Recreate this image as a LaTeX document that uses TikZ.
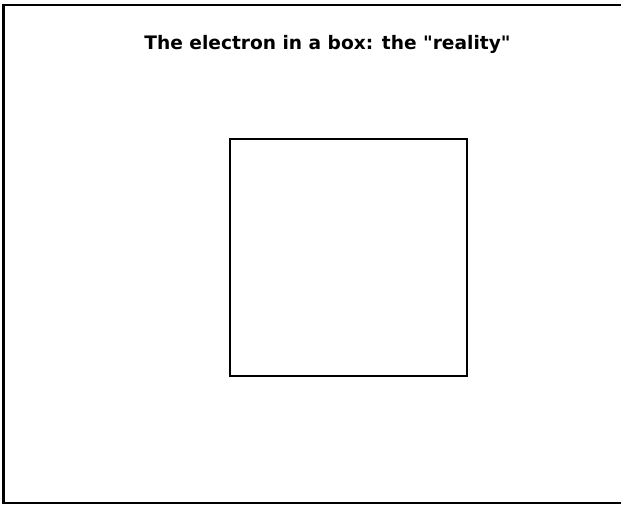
\documentclass[tikz,border=0pt]{standalone}
\usepackage{fontspec}
\newfontfamily\titlefont{DejaVu Sans}
\begin{document}
\begin{tikzpicture}[x=1pt,y=-1pt,
  frameline/.style={draw=black,line width=2.5pt},
  boxline/.style={draw=black,line width=2pt},
  titletext/.style={font=\titlefont\fontsize{18.6}{20}\selectfont\bfseries,inner sep=0pt}]
\useasboundingbox (0,0) rectangle (621,505);
\draw[frameline] (621,5) -- (3.5,5) -- (3.5,503) -- (621,503);
\node[titletext] (title) at (327.5,44) {The electron in a box: the "reality"};
\draw[boxline] (229.5,139.5) rectangle (466.5,375.5);
\end{tikzpicture}
\end{document}
